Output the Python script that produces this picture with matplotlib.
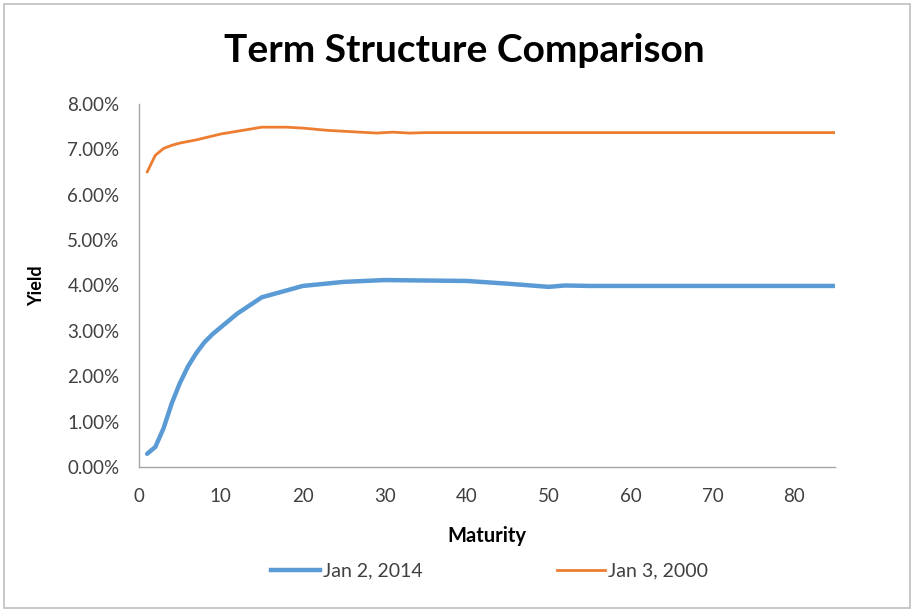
import matplotlib
matplotlib.use("Agg")
import matplotlib.pyplot as plt
from matplotlib.patches import Rectangle
from matplotlib.lines import Line2D
from matplotlib.ticker import FuncFormatter

plt.rcParams['font.family'] = ['Lato', 'DejaVu Sans']

# Maturities (years) and yields (%) for the two curve dates
maturity_2014 = [1, 2, 3, 4, 5, 6, 7, 8, 9, 10, 12, 15, 20, 25, 30, 35, 40, 45, 50, 52, 55, 60, 65, 70, 75, 80, 85]
yield_2014 = [0.29, 0.44, 0.85, 1.40, 1.85, 2.22, 2.51, 2.75, 2.93, 3.08, 3.38, 3.74, 3.99, 4.08, 4.12, 4.11, 4.10, 4.04, 3.97, 4.00, 3.99, 3.99, 3.99, 3.99, 3.99, 3.99, 3.99]

maturity_2000 = [1, 2, 3, 4, 5, 7, 10, 12, 15, 18, 20, 23, 25, 29, 30, 31, 33, 35, 40, 50, 60, 70, 80, 85]
yield_2000 = [6.50, 6.87, 7.02, 7.09, 7.14, 7.21, 7.34, 7.40, 7.49, 7.49, 7.47, 7.42, 7.40, 7.36, 7.37, 7.38, 7.36, 7.37, 7.37, 7.37, 7.37, 7.37, 7.37, 7.37]

series_labels = ["Jan 2, 2014", "Jan 3, 2000"]
x_ticks = [0, 10, 20, 30, 40, 50, 60, 70, 80]
y_ticks = [0, 1, 2, 3, 4, 5, 6, 7, 8]

blue = "#5B9BD5"
orange = "#ED7D31"
axis_gray = "#A6A6A6"
text_col = "#404040"

fig = plt.figure(figsize=(9.14, 6.12), dpi=100)
fig.patches.append(Rectangle((0.004, 0.006), 0.992, 0.987, transform=fig.transFigure,
                             fill=False, edgecolor="#BFBFBF", linewidth=1.2))

ax = fig.add_axes([0.152, 0.237, 0.762, 0.593])
ax.plot(maturity_2014, yield_2014, color=blue, linewidth=3.2, solid_capstyle="round",
        solid_joinstyle="round")
ax.plot(maturity_2000, yield_2000, color=orange, linewidth=2.0, solid_capstyle="round",
        solid_joinstyle="round")

ax.set_xlim(0, 85)
ax.set_ylim(0, 8)
ax.set_xticks(x_ticks)
ax.set_yticks(y_ticks)
ax.yaxis.set_major_formatter(FuncFormatter(lambda v, p: f"{v:.2f}%"))
ax.tick_params(axis="both", length=0, labelsize=13.5, colors=text_col)
ax.tick_params(axis="y", pad=14)
ax.tick_params(axis="x", pad=15)
for s in ["top", "right"]:
    ax.spines[s].set_visible(False)
for s in ["left", "bottom"]:
    ax.spines[s].set_color(axis_gray)
    ax.spines[s].set_linewidth(1.0)

ax.set_xlabel("Maturity", fontsize=14.5, fontweight="bold", color="black")
ax.set_ylabel("Yield", fontsize=13, fontweight="bold", color="black")
ax.xaxis.set_label_coords(0.5, -0.163)
ax.yaxis.set_label_coords(-0.135, 0.5)

fig.text(0.508, 0.918, "Term Structure Comparison", ha="center", va="center",
         fontsize=28, fontweight="bold", color="black")

handles = [Line2D([], [], color=blue, linewidth=3.2),
           Line2D([], [], color=orange, linewidth=2.0)]
fig.legend(handles, series_labels, loc="center", bbox_to_anchor=(0.536, 0.067), ncol=2,
           frameon=False, fontsize=14, handlelength=2.5, handletextpad=0.15,
           columnspacing=6.9, labelcolor=text_col)

fig.savefig("out.png", dpi=100)
